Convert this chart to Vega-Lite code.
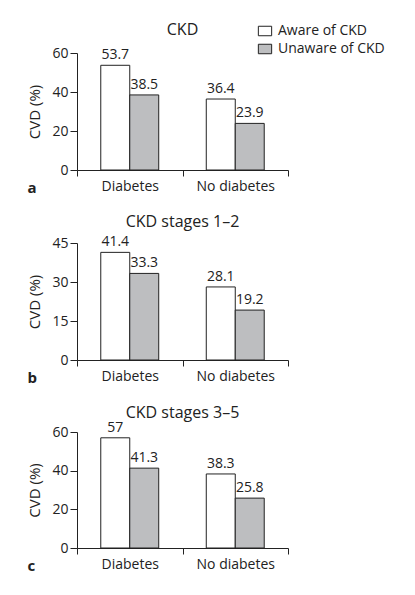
{
  "$schema": "https://vega.github.io/schema/vega-lite/v6.json",
  "padding": {"left": 27, "top": 22, "right": 5, "bottom": 5},
  "background": "white",
  "data": {"values": [
    {"panel": "a", "group": "Diabetes", "awareness": "Aware of CKD", "value": 53.7},
    {"panel": "a", "group": "Diabetes", "awareness": "Unaware of CKD", "value": 38.5},
    {"panel": "a", "group": "No diabetes", "awareness": "Aware of CKD", "value": 36.4},
    {"panel": "a", "group": "No diabetes", "awareness": "Unaware of CKD", "value": 23.9},
    {"panel": "b", "group": "Diabetes", "awareness": "Aware of CKD", "value": 41.4},
    {"panel": "b", "group": "Diabetes", "awareness": "Unaware of CKD", "value": 33.3},
    {"panel": "b", "group": "No diabetes", "awareness": "Aware of CKD", "value": 28.1},
    {"panel": "b", "group": "No diabetes", "awareness": "Unaware of CKD", "value": 19.2},
    {"panel": "c", "group": "Diabetes", "awareness": "Aware of CKD", "value": 57},
    {"panel": "c", "group": "Diabetes", "awareness": "Unaware of CKD", "value": 41.3},
    {"panel": "c", "group": "No diabetes", "awareness": "Aware of CKD", "value": 38.3},
    {"panel": "c", "group": "No diabetes", "awareness": "Unaware of CKD", "value": 25.8}
  ]},
  "spacing": 19,
  "resolve": {"scale": {"y": "independent"}, "legend": {"fill": "independent"}},
  "vconcat": [
    {
      "width": 211, "height": 117,
      "title": {"text": "CKD", "offset": -14},
      "transform": [{"filter": "datum.panel == 'a'"}],
      "encoding": {
        "x": {"field": "group", "type": "nominal", "scale": {"paddingInner": 0, "paddingOuter": 0}, "axis": {"title": "a"}},
        "xOffset": {"field": "awareness", "type": "nominal", "sort": ["Aware of CKD", "Unaware of CKD"], "scale": {"paddingOuter": 0.82, "paddingInner": 0}},
        "y": {"field": "value", "type": "quantitative", "scale": {"domain": [0, 60]}, "axis": {"values": [0, 20, 40, 60], "title": "CVD (%)"}}
      },
      "layer": [
        {"mark": {"type": "bar", "stroke": "#222", "strokeWidth": 1},
         "encoding": {"fill": {"field": "awareness", "type": "nominal", "sort": ["Aware of CKD", "Unaware of CKD"], "scale": {"range": ["white", "#bdbec0"]},
           "legend": {"orient": "none", "legendX": 181, "legendY": -29, "title": null, "symbolType": "M-1.4,-1H1.4V1H-1.4Z", "symbolSize": 90, "symbolStrokeColor": "#222", "symbolStrokeWidth": 1, "symbolOpacity": 1, "labelFontSize": 14, "labelFont": "Open Sans", "labelColor": "#222", "labelOffset": 6, "rowPadding": 4, "padding": 0}}}},
        {"mark": {"type": "text", "baseline": "bottom", "dy": -3, "fontSize": 14, "font": "Open Sans", "color": "#222"},
         "encoding": {"text": {"field": "value", "type": "quantitative"}}}
      ]
    },
    {
      "width": 211, "height": 117,
      "title": {"text": "CKD stages 1–2", "offset": 5},
      "transform": [{"filter": "datum.panel == 'b'"}],
      "encoding": {
        "x": {"field": "group", "type": "nominal", "scale": {"paddingInner": 0, "paddingOuter": 0}, "axis": {"title": "b"}},
        "xOffset": {"field": "awareness", "type": "nominal", "sort": ["Aware of CKD", "Unaware of CKD"], "scale": {"paddingOuter": 0.82, "paddingInner": 0}},
        "y": {"field": "value", "type": "quantitative", "scale": {"domain": [0, 45]}, "axis": {"values": [0, 15, 30, 45], "title": "CVD (%)"}}
      },
      "layer": [
        {"mark": {"type": "bar", "stroke": "#222", "strokeWidth": 1},
         "encoding": {"fill": {"field": "awareness", "type": "nominal", "sort": ["Aware of CKD", "Unaware of CKD"], "scale": {"range": ["white", "#bdbec0"]}, "legend": null}}},
        {"mark": {"type": "text", "baseline": "bottom", "dy": -3, "fontSize": 14, "font": "Open Sans", "color": "#222"},
         "encoding": {"text": {"field": "value", "type": "quantitative"}}}
      ]
    },
    {
      "width": 211, "height": 116,
      "title": {"text": "CKD stages 3–5", "offset": 0},
      "transform": [{"filter": "datum.panel == 'c'"}],
      "encoding": {
        "x": {"field": "group", "type": "nominal", "scale": {"paddingInner": 0, "paddingOuter": 0}, "axis": {"title": "c"}},
        "xOffset": {"field": "awareness", "type": "nominal", "sort": ["Aware of CKD", "Unaware of CKD"], "scale": {"paddingOuter": 0.82, "paddingInner": 0}},
        "y": {"field": "value", "type": "quantitative", "scale": {"domain": [0, 60]}, "axis": {"values": [0, 20, 40, 60], "title": "CVD (%)"}}
      },
      "layer": [
        {"mark": {"type": "bar", "stroke": "#222", "strokeWidth": 1},
         "encoding": {"fill": {"field": "awareness", "type": "nominal", "sort": ["Aware of CKD", "Unaware of CKD"], "scale": {"range": ["white", "#bdbec0"]}, "legend": null}}},
        {"mark": {"type": "text", "baseline": "bottom", "dy": -3, "fontSize": 14, "font": "Open Sans", "color": "#222"},
         "encoding": {"text": {"field": "value", "type": "quantitative"}}}
      ]
    }
  ],
  "config": {
    "view": {"stroke": null},
    "font": "Open Sans",
    "title": {"fontSize": 16, "fontWeight": "normal", "font": "Open Sans", "color": "#222", "anchor": "middle", "frame": "group"},
    "axis": {"grid": false, "domainColor": "#222", "tickColor": "#222", "labelColor": "#222", "titleColor": "#222", "labelFont": "Open Sans", "titleFont": "Open Sans", "labelFontSize": 14, "titleFontSize": 15, "titleFontWeight": "normal", "domainWidth": 1, "tickWidth": 1},
    "axisX": {"labelAngle": 0, "tickBand": "extent", "tickSize": 6, "labelPadding": 3, "titleX": -50, "titleY": 22, "titleAlign": "left", "titleBaseline": "alphabetic", "titleFontWeight": "bold", "titleFontSize": 15},
    "axisY": {"tickSize": 7, "labelPadding": 2, "titlePadding": 9}
  }
}
